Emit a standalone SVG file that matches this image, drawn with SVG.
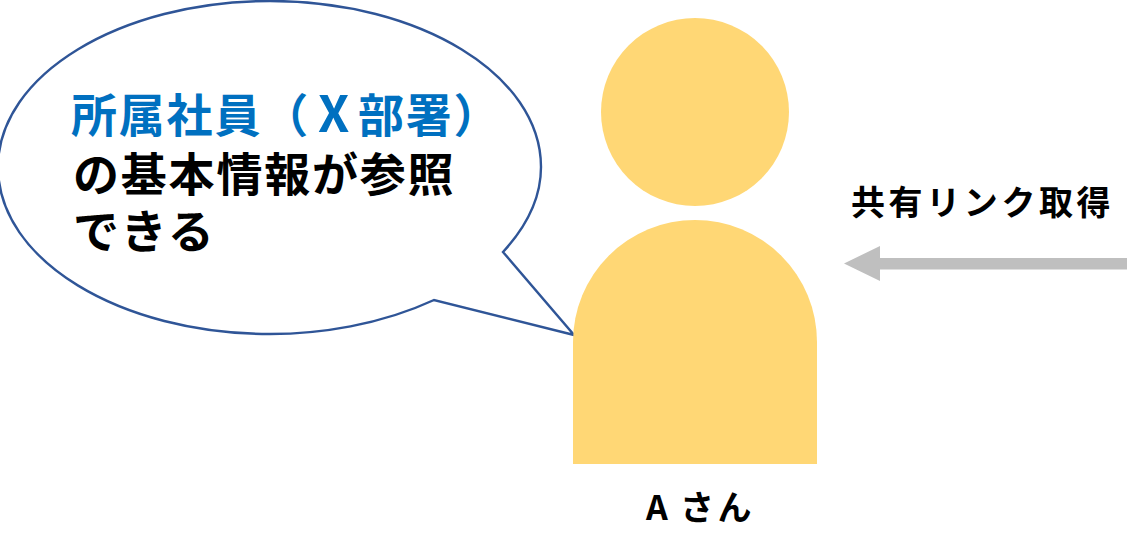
<svg xmlns="http://www.w3.org/2000/svg" width="1127" height="534" viewBox="0 0 1127 534">
<style>
text{font-family:"Noto Sans CJK JP","Noto Sans",sans-serif;font-weight:700;fill:#000}
.big{font-size:46px;letter-spacing:1.8px}
.small{font-size:34px;letter-spacing:3.6px}
.blue{fill:#0070c0}
</style>
<rect width="1127" height="534" fill="#fff"/>
<g id="bubble">
<path d="M574 335 L434 300 C380 325 320 334 270 334 C120 334 -2 260 -2 167 C-2 75 120 1 270 1 C420 1 541 75 541 167 C541 198 527 226 503 252 Z" fill="#fff" stroke="#2f5597" stroke-width="2.4"/>
<text class="big blue" x="71" y="132">所属社員（<tspan x="318" font-size="50">X</tspan><tspan x="358">部署）</tspan></text>
<text class="big" x="73" y="191">の基本情報が参照</text>
<text class="big" x="73" y="248">できる</text>
</g>
<g id="person">
<circle cx="695" cy="112" r="94" fill="#ffd775"/>
<path d="M573 464 V342 A122 122 0 0 1 817 342 V464 Z" fill="#ffd775"/>
<text class="small" x="646" y="520">A<tspan x="680">さん</tspan></text>
</g>
<g id="connectors">
<path d="M1127 258 H880 V246 L844 263.500 L880 281 V269.500 H1127 Z" fill="#bfbfbf"/>
</g>
<g id="label"><text class="small" x="851" y="215">共有リンク取得</text></g>
</svg>
